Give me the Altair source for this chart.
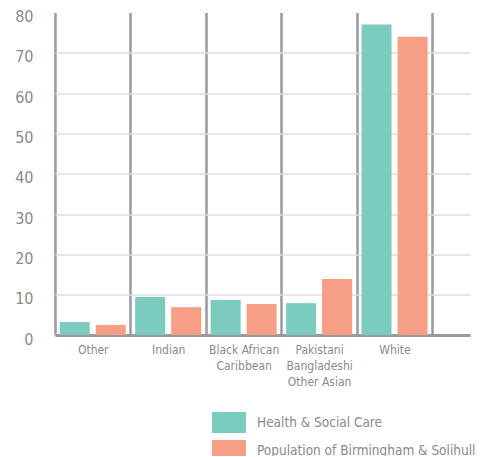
import altair as alt
import pandas as pd

categories = ["Other", "Indian", "Black African\nCaribbean", "Pakistani\nBangladeshi\nOther Asian", "White"]
series = ["Health & Social Care", "Population of Birmingham & Solihull"]
health = [3.2, 9.4, 8.7, 7.9, 77.0]
population = [2.5, 6.9, 7.7, 13.9, 74.0]
colors = ["#7bcbbf", "#f79e86"]
y_ticks = [0, 10, 20, 30, 40, 50, 60, 70, 80]

rows = []
for c, h, p in zip(categories, health, population):
    rows.append({"cat": c, "series": series[0], "value": h})
    rows.append({"cat": c, "series": series[1], "value": p})
df = pd.DataFrame(rows)

FONT = "DejaVu Sans Condensed, Roboto"

chart = alt.Chart(df).mark_bar().encode(
    x=alt.X("cat:N", sort=categories, title=None,
            scale=alt.Scale(paddingInner=0, paddingOuter=0.25, align=0),
            axis=alt.Axis(labelAngle=0, ticks=False, grid=True, tickBand="extent",
                          gridColor="#9a9a9e", gridWidth=2.5,
                          domainColor="#9a9a9e", domainWidth=3,
                          labelFont=FONT, labelFontSize=12, labelColor="#8a8a8a",
                          labelPadding=9, labelLineHeight=16,
                          labelExpr="split(datum.label, '\\n')")),
    xOffset=alt.XOffset("series:N", sort=series,
                        scale=alt.Scale(paddingInner=0.1667, paddingOuter=0.131)),
    y=alt.Y("value:Q", title=None,
            scale=alt.Scale(domain=[0, 80], nice=False),
            axis=alt.Axis(values=y_ticks, domain=False, ticks=False,
                          gridColor="#dddddd", gridWidth=1.5,
                          gridOpacity=alt.condition("datum.value == 80", alt.value(0), alt.value(1)),
                          labelFont=FONT, labelFontSize=16, labelColor="#8a8a8a",
                          labelPadding=22, labelOffset=4)),
    color=alt.Color("series:N", sort=series, title=None,
                    scale=alt.Scale(domain=series, range=colors),
                    legend=alt.Legend(orient="none", legendX=157, legendY=393,
                                      symbolType="M-1,-0.62L1,-0.62L1,0.62L-1,0.62Z",
                                      symbolSize=1156, symbolStrokeWidth=0,
                                      labelFont=FONT, labelFontSize=13.5, labelColor="#8a8a8a",
                                      labelLimit=400,
                                      labelOffset=11, rowPadding=-6, padding=0)),
).properties(
    width=415, height=322.5,
    autosize=alt.AutoSizeParams(type="none"),
    padding={"left": 47, "top": 4.5, "right": 15, "bottom": 121},
).configure_view(stroke=None)

chart.save("out.html", embed_options={"renderer": "svg", "actions": False})
